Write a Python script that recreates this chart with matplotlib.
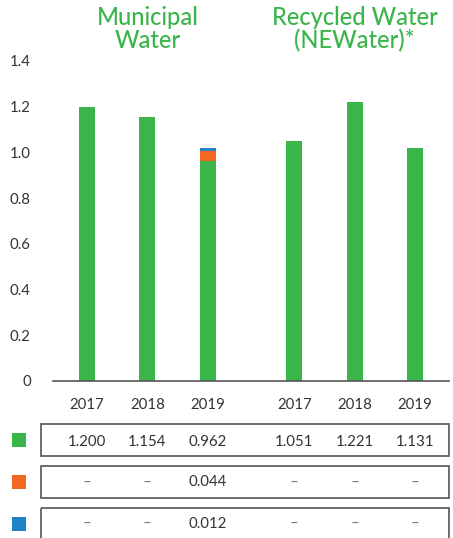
import matplotlib
matplotlib.use("Agg")
import matplotlib.pyplot as plt
from matplotlib.patches import Rectangle
from matplotlib.transforms import blended_transform_factory

# ---- data ----
groups = ["Municipal\nWater", "Recycled Water\n(NEWater)*"]
years = ["2017", "2018", "2019", "2017", "2018", "2019"]
green_vals = [1.200, 1.154, 0.962, 1.051, 1.221, 1.018]
orange_vals = [0.0, 0.0, 0.044, 0.0, 0.0, 0.0]
blue_vals = [0.0, 0.0, 0.012, 0.0, 0.0, 0.0]
green_labels = ["1.200", "1.154", "0.962", "1.051", "1.221", "1.131"]
orange_labels = ["–", "–", "0.044", "–", "–", "–"]
blue_labels = ["–", "–", "0.012", "–", "–", "–"]
yticks = [0, 0.2, 0.4, 0.6, 0.8, 1.0, 1.2, 1.4]
ytick_labels = ["0", "0.2", "0.4", "0.6", "0.8", "1.0", "1.2", "1.4"]

GREEN = "#3AB54A"
ORANGE = "#F26722"
BLUE = "#1C84C6"
TXT = "#333333"

plt.rcParams["font.family"] = ["Lato", "DejaVu Sans"]

W, H = 453, 538
fig = plt.figure(figsize=(W / 100, H / 100), dpi=100)

# main axes in pixel layout
left, right, top, bottom = 53, 449, 61, 381
ax = fig.add_axes([left / W, 1 - bottom / H, (right - left) / W, (bottom - top) / H])

pos = [0, 1, 2, 3.43, 4.43, 5.43]
bw = 0.265
ax.bar(pos, green_vals, width=bw, color=GREEN)
b1 = [g for g in green_vals]
ax.bar(pos, orange_vals, width=bw, bottom=b1, color=ORANGE)
b2 = [g + o for g, o in zip(green_vals, orange_vals)]
ax.bar(pos, blue_vals, width=bw, bottom=b2, color=BLUE)

ax.set_xlim(-0.562, 5.99)
ax.set_ylim(0, 1.4)
ax.set_yticks(yticks)
ax.set_yticklabels(ytick_labels)
ax.set_xticks(pos)
ax.set_xticklabels(years)
ax.tick_params(axis="both", length=0, labelsize=10.8, colors=TXT)
ax.tick_params(axis="y", pad=16)
ax.tick_params(axis="x", pad=12)
for s in ["top", "right", "left"]:
    ax.spines[s].set_visible(False)
ax.spines["bottom"].set_color("#555555")
ax.spines["bottom"].set_linewidth(1.2)

# overlay axes in pixel coordinates
ov = fig.add_axes([0, 0, 1, 1])
ov.set_xlim(0, W)
ov.set_ylim(H, 0)
ov.axis("off")
bt = blended_transform_factory(ax.transData, ov.transData)

# group headers
grp_x = [(pos[0] + pos[2]) / 2, (pos[3] + pos[5]) / 2]
for gx, g in zip(grp_x, groups):
    ov.text(gx, 29, g, transform=bt, ha="center", va="center", fontsize=17,
            color=GREEN, linespacing=1.0, fontweight="medium")

# table
rows = [(green_labels, GREEN, 424, 441.5, 432.5),
        (orange_labels, ORANGE, 466, 482.5, 475),
        (blue_labels, BLUE, 507.5, 524, 516.5)]
for labels, col, ytop, ytxt, ysq in rows:
    ov.add_patch(Rectangle((40.7, ytop), 449 - 40.7, 32, fill=False,
                           edgecolor="#555555", linewidth=1.2, clip_on=False))
    ov.add_patch(Rectangle((12, ysq), 14, 14, color=col, linewidth=0))
    for p, lab in zip(pos, labels):
        c = TXT if lab != "–" else "#777777"
        ov.text(p, ytxt, lab, transform=bt, ha="center", va="center",
                fontsize=10.8, color=c)

fig.savefig("out.png", dpi=100)
